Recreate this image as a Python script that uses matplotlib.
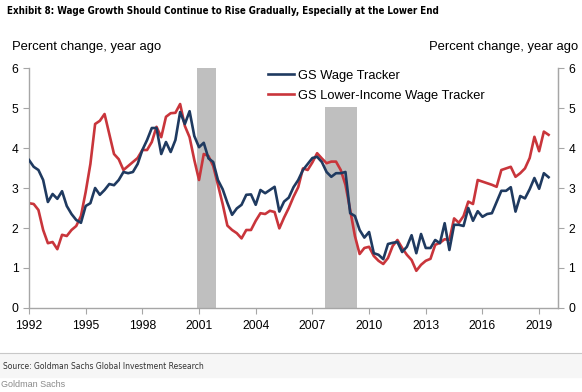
import numpy as np
import matplotlib
matplotlib.use("Agg")
import matplotlib.pyplot as plt
from matplotlib import font_manager

plt.rcParams['font.family'] = ['Liberation Sans', 'DejaVu Sans']

# quarterly readings, 1992Q1 .. 2019Q3
wage_tracker = [
    3.70, 3.53, 3.45, 3.20, 2.65, 2.85, 2.73, 2.92, 2.55, 2.35, 2.20, 2.13,
    2.55, 2.62, 3.00, 2.83, 2.95, 3.10, 3.07, 3.20, 3.40, 3.37, 3.40, 3.60,
    3.95, 4.20, 4.50, 4.50, 3.85, 4.15, 3.90, 4.20, 4.90, 4.60, 4.92, 4.30,
    4.02, 4.13, 3.74, 3.65, 3.20, 2.97, 2.63, 2.33, 2.49, 2.58, 2.83, 2.84,
    2.58, 2.95, 2.87, 2.95, 3.03, 2.41, 2.66, 2.76, 3.02, 3.20, 3.45, 3.60,
    3.75, 3.78, 3.65, 3.40, 3.28, 3.37, 3.37, 3.40, 2.37, 2.30, 1.95, 1.76,
    1.90, 1.37, 1.33, 1.22, 1.60, 1.63, 1.65, 1.40, 1.53, 1.82, 1.37, 1.85,
    1.50, 1.50, 1.70, 1.62, 2.12, 1.45, 2.08, 2.08, 2.05, 2.50, 2.18, 2.42,
    2.28, 2.35, 2.37, 2.65, 2.93, 2.93, 3.02, 2.41, 2.80, 2.74, 2.97, 3.25,
    2.98, 3.37, 3.27,
]
lower_income = [
    2.62, 2.60, 2.45, 1.95, 1.62, 1.65, 1.47, 1.83, 1.80, 1.95, 2.05, 2.30,
    2.90, 3.60, 4.60, 4.68, 4.85, 4.35, 3.85, 3.72, 3.45, 3.55, 3.65, 3.75,
    3.95, 3.95, 4.15, 4.53, 4.27, 4.78, 4.87, 4.88, 5.10, 4.55, 4.27, 3.70,
    3.20, 3.85, 3.80, 3.55, 3.08, 2.60, 2.06, 1.95, 1.87, 1.74, 1.95, 1.95,
    2.18, 2.37, 2.35, 2.43, 2.40, 1.99, 2.26, 2.50, 2.78, 3.02, 3.49, 3.45,
    3.64, 3.87, 3.74, 3.62, 3.66, 3.66, 3.45, 3.08, 2.45, 1.80, 1.35, 1.50,
    1.53, 1.30, 1.18, 1.10, 1.25, 1.55, 1.70, 1.50, 1.33, 1.20, 0.93, 1.08,
    1.18, 1.23, 1.58, 1.63, 1.72, 1.70, 2.24, 2.13, 2.30, 2.66, 2.60, 3.20,
    3.16, 3.12, 3.08, 3.03, 3.45, 3.49, 3.53, 3.28, 3.37, 3.49, 3.75, 4.28,
    3.92, 4.41, 4.33,
]
quarters = 1992 + np.arange(len(wage_tracker)) / 4.0

# recession shading: start, end, bar height
rec_start = [2000.9, 2007.65]
rec_end = [2001.9, 2009.37]
rec_height = [6.0, 5.03]

year_ticks = list(range(1992, 2020, 3))
y_ticks = [0, 1, 2, 3, 4, 5, 6]

axis_grey = '#a6a6a6'

# narrow font for title/source if one is around
names = {f.name for f in font_manager.fontManager.ttflist}
narrow = 'Liberation Sans Narrow' if 'Liberation Sans Narrow' in names else 'DejaVu Sans'

fig = plt.figure(figsize=(5.82, 3.92), dpi=100)
ax = fig.add_axes([0.0498, 0.2143, 0.909, 0.6122])

widths = [e - s for s, e in zip(rec_start, rec_end)]
ax.bar(rec_start, rec_height, width=widths, align='edge', color='#bfbfbf', zorder=1)

ax.plot(quarters, wage_tracker, color='#1f3a60', lw=1.9, label='GS Wage Tracker', zorder=3)
ax.plot(quarters, lower_income, color='#c9353b', lw=1.9, label='GS Lower-Income Wage Tracker', zorder=2)

ax.set_xlim(1992, 2020)
ax.set_ylim(0, 6)
ax.set_xticks(year_ticks)
ax.set_yticks(y_ticks)

for s in ['left', 'bottom', 'right']:
    ax.spines[s].set_color(axis_grey)
    ax.spines[s].set_linewidth(1.0)
ax.spines['top'].set_visible(False)
ax.tick_params(axis='both', colors=axis_grey, labelcolor='black', labelsize=8.7, length=4, direction='out')
ax.tick_params(axis='x', pad=5)

ax2 = ax.twinx()
ax2.set_ylim(0, 6)
ax2.set_yticks(y_ticks)
for s in ['left', 'bottom', 'top']:
    ax2.spines[s].set_visible(False)
ax2.spines['right'].set_color(axis_grey)
ax2.tick_params(axis='y', colors=axis_grey, labelcolor='black', labelsize=8.7, length=4, direction='out')

leg = ax.legend(loc='upper left', bbox_to_anchor=(0.435, 1.03), frameon=False, fontsize=9.3,
                handlelength=2.0, handletextpad=0.3, labelspacing=0.62, borderpad=0.2)

fig.text(0.012, 0.972, 'Exhibit 8: Wage Growth Should Continue to Rise Gradually, Especially at the Lower End',
         family=narrow, fontstretch='condensed', fontweight='bold', fontsize=7.0, va='center')
fig.text(0.021, 0.88, 'Percent change, year ago', fontsize=9.4, va='center')
fig.text(0.993, 0.88, 'Percent change, year ago', fontsize=9.4, va='center', ha='right')

fig.add_artist(plt.Line2D([0, 1], [0.1, 0.1], transform=fig.transFigure, color='#c8c8c8', lw=0.8))
fig.patches.append(plt.Rectangle((0, 0.038), 1, 0.06, transform=fig.transFigure, color='#f6f6f6', zorder=0))
fig.text(0.006, 0.066, 'Source: Goldman Sachs Global Investment Research',
         family=narrow, fontstretch='condensed', fontsize=6.1, va='center', color='#333333')
fig.text(0.002, 0.018, 'Goldman Sachs', fontsize=6.5, va='center', color='#8a8a8a')

fig.savefig('out.png', dpi=100)
